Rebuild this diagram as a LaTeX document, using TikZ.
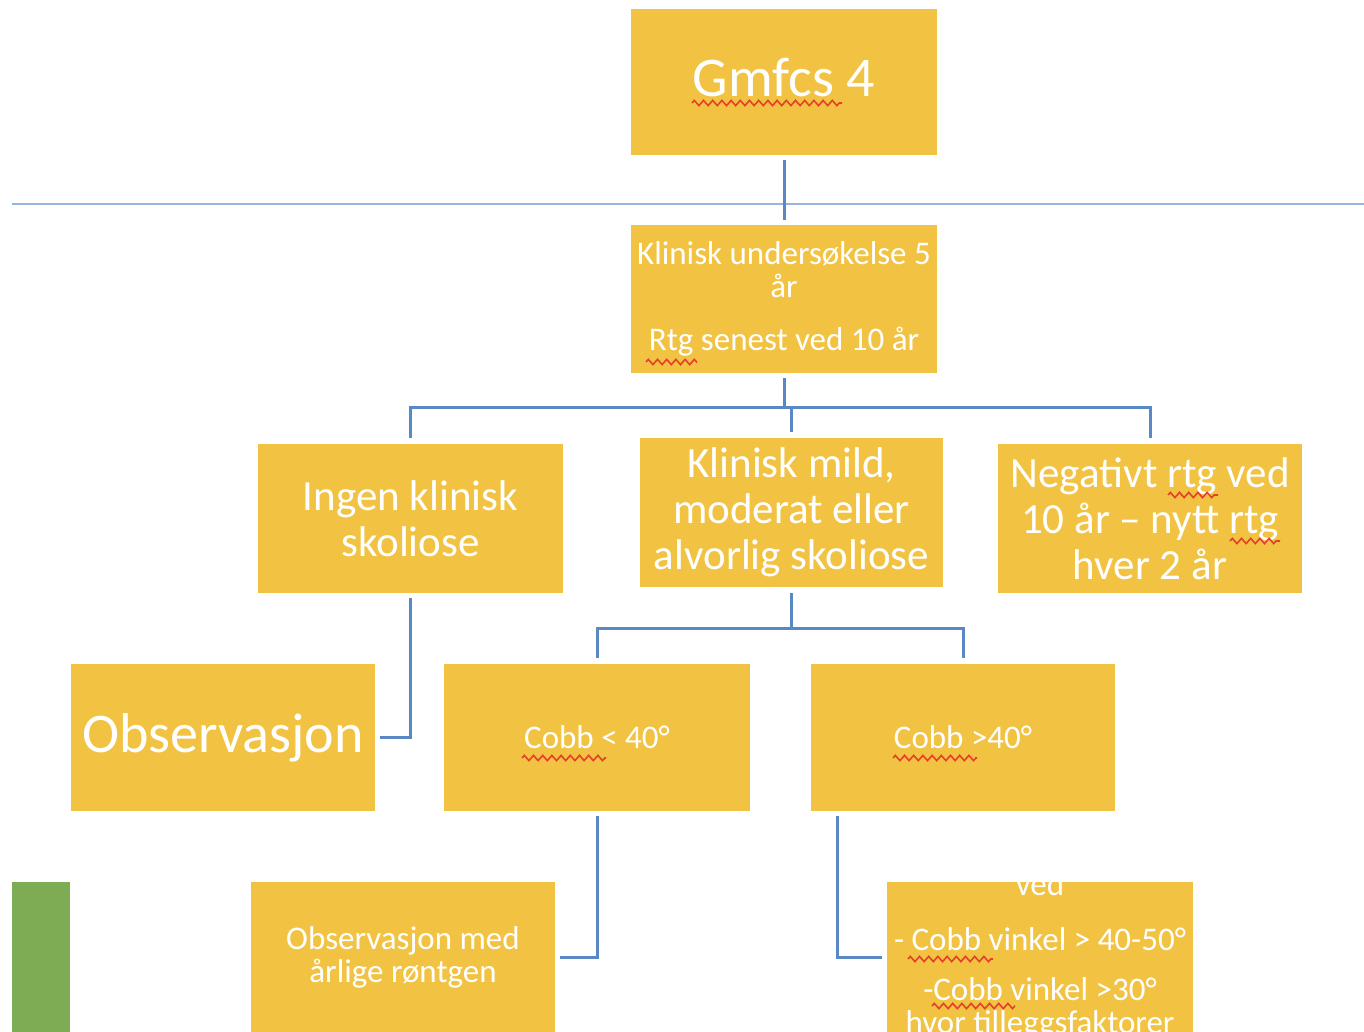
\documentclass[tikz,border=0pt]{standalone}
\usepackage{fontspec}
\setmainfont{Carlito}
\usetikzlibrary{decorations.pathmorphing}

\definecolor{boxyellow}{RGB}{242,195,67}
\definecolor{linkblue}{RGB}{88,137,197}
\definecolor{ruleblue}{RGB}{150,180,220}
\definecolor{barGreen}{RGB}{126,172,85}
\definecolor{spellred}{RGB}{230,65,40}

\def\bigsize{\fontsize{28}{30}\selectfont}
\def\midsize{\fontsize{21.5}{23}\selectfont}
\def\smallsize{\fontsize{16.5}{16.5}\selectfont}

\tikzset{
    ybox/.style={fill=boxyellow,text=white,inner sep=0pt,align=center},
    conn/.style={draw=linkblue,line width=1.5pt},
    squiggle/.style={draw=spellred,line width=0.8pt,decorate,
        decoration={zigzag,amplitude=1.3pt,segment length=4.6pt}}
}

\begin{document}
\begin{tikzpicture}[x=0.5pt,y=-0.5pt]
            \useasboundingbox (0,0) rectangle (1364,1032);

            % top box and the rule under it
            \node[ybox,minimum width=153pt,minimum height=73pt,font=\bigsize] (gmfcs) at (784,82)
                {\raisebox{2pt}[\height][\depth]{Gmfcs 4}};
            \coordinate (ruleL) at (12,204);
            \coordinate (ruleR) at (1364,204);
            \draw[ruleblue,line width=1pt] (ruleL) -- (ruleR);

            \node[ybox,minimum width=153pt,minimum height=74pt,font=\smallsize] (klin) at (784,299)
                {Klinisk undersøkelse 5\\år\\[10pt]Rtg senest ved 10 år};

            % second row
            \begin{scope}[font=\midsize]
                \node[ybox,minimum width=152.5pt,minimum height=74.5pt] (ingen) at (410.5,518.5) {Ingen klinisk\\skoliose};
                \node[ybox,minimum width=151.5pt,minimum height=74.5pt] (mild) at (791.5,512.5) {Klinisk mild,\\moderat eller\\alvorlig skoliose};
                \node[ybox,minimum width=152pt,minimum height=74.5pt] (neg) at (1150,518.5) {Negativt rtg ved\\10 år – nytt rtg\\hver 2 år};
            \end{scope}

            % third row
            \node[ybox,minimum width=152pt,minimum height=73.5pt,font=\bigsize] (obs) at (223,737.5) {Observasjon};
            \begin{scope}[font=\smallsize]
                \node[ybox,minimum width=153pt,minimum height=73.5pt] (cobbA) at (597,737.5) {Cobb < 40°};
                \node[ybox,minimum width=152pt,minimum height=73.5pt] (cobbB) at (963,737.5) {Cobb >40°};

                % bottom row
                \node[ybox,minimum width=152pt,minimum height=75pt] (obsmed) at (403,957) {Observasjon med\\årlige røntgen};
                \node[ybox,minimum width=153pt,minimum height=75pt] (tiltak) at (1040,957) {};
                \begin{scope}
                    \clip (tiltak.south west) rectangle (tiltak.north east);
                    \node[text=white,inner sep=0pt,align=center,anchor=north] (tiltaktxt) at (1040,872)
                        {ved\\[11pt]- Cobb vinkel > 40-50°\\[8.5pt]-Cobb vinkel >30°\\hvor tilleggsfaktorer};
                \end{scope}
            \end{scope}

            \fill[barGreen] (12,882) rectangle (70,1032);

            % connectors
            \draw[conn,shorten <=2.5pt,shorten >=2.5pt] (gmfcs.south) -- (klin.north);
            \path (ingen.north) ++(0,-36) coordinate (busA);
            \draw[conn,shorten <=3pt,shorten >=3pt] (ingen.north) -- (busA) -| (neg.north);
            \draw[conn,shorten <=2.5pt,shorten >=3pt] (klin.south) -- (klin.south |- busA) -| (mild.north);
            \draw[conn,shorten <=2.5pt,shorten >=2.5pt] (ingen.south) |- (obs.east);
            \path (mild.south) ++(0,41) coordinate (busB);
            \draw[conn,shorten <=3pt] (mild.south) -- (busB);
            \draw[conn,shorten <=3pt,shorten >=3pt] (cobbA.north) |- (busB) -| (cobbB.north);
            \draw[conn,shorten <=2.5pt,shorten >=2.5pt] (cobbA.south) |- (obsmed.east);
            \draw[conn,shorten <=2.5pt,shorten >=2.5pt] ([xshift=13.5pt]cobbB.south west) |- (tiltak.west);

            % spelling marks
            \foreach \xa/\xb/\yy in {692/842/103, 646/697/362, 1168/1218/495, 1230/1280/541,
                                     522/606/758, 893/977/758, 908/993/959, 932/1015/1006}{%
                    \draw[squiggle] (\xa,\yy) -- (\xb,\yy);
                }
\end{tikzpicture}
\end{document}
